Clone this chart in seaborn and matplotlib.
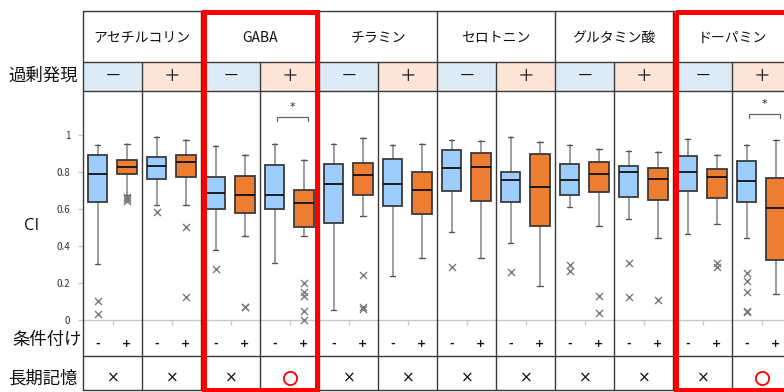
import matplotlib
matplotlib.use("Agg")
import matplotlib.pyplot as plt
from matplotlib.patches import Rectangle
import numpy as np
import pandas as pd
import seaborn as sns

# ---- data -------------------------------------------------------------
molecules = ["アセチルコリン", "GABA", "チラミン", "セロトニン", "グルタミン酸", "ドーパミン"]
overexpression = ["－", "＋"]          # per molecule: without / with overexpression
conditioning = ["-", "+"]              # per panel: left box / right box
long_term_memory = ["×", "×", "×", "○", "×", "×", "×", "×", "×", "×", "×", "○"]
highlighted_molecules = [1, 5]
significant_panels = [3, 11]
bracket_heights = [1.10, 1.115]
y_ticks = [0, 0.2, 0.4, 0.6, 0.8, 1.0]
y_tick_labels = ["0", "0.2", "0.4", "0.6", "0.8", "1"]

# box summaries, 24 boxes: panel order (molecule, overexpression), conditioning - then +
whisker_low = [0.302, 0.680, 0.625, 0.622, 0.381, 0.454, 0.311, 0.455,
               0.054, 0.562, 0.237, 0.334, 0.475, 0.338, 0.420, 0.182,
               0.611, 0.511, 0.547, 0.446, 0.468, 0.522, 0.443, 0.141]
quartile1 = [0.638, 0.790, 0.764, 0.777, 0.600, 0.582, 0.600, 0.502,
             0.524, 0.679, 0.618, 0.576, 0.700, 0.647, 0.638, 0.511,
             0.678, 0.692, 0.665, 0.649, 0.699, 0.663, 0.638, 0.326]
median = [0.793, 0.828, 0.833, 0.855, 0.687, 0.678, 0.678, 0.632,
          0.735, 0.786, 0.737, 0.703, 0.826, 0.828, 0.759, 0.719,
          0.759, 0.791, 0.802, 0.763, 0.804, 0.773, 0.755, 0.607]
quartile3 = [0.893, 0.867, 0.882, 0.893, 0.777, 0.779, 0.840, 0.703,
             0.847, 0.851, 0.874, 0.800, 0.920, 0.905, 0.800, 0.900,
             0.845, 0.855, 0.836, 0.826, 0.891, 0.820, 0.863, 0.770]
whisker_high = [0.946, 0.954, 0.990, 0.974, 0.941, 0.894, 0.952, 0.866,
                0.952, 0.985, 0.948, 0.956, 0.974, 0.972, 0.990, 0.965,
                0.950, 0.927, 0.918, 0.910, 0.981, 0.896, 0.948, 0.974]
outliers = [[0.105, 0.034], [0.665, 0.655, 0.645], [0.584], [0.504, 0.123],
            [0.275], [0.072, 0.068], [], [0.199, 0.153, 0.130, 0.049, 0.0],
            [], [0.242, 0.072, 0.058], [], [],
            [0.289], [], [0.258], [],
            [0.298, 0.266], [0.132, 0.036], [0.309, 0.125], [0.108],
            [], [0.311, 0.289], [0.255, 0.211, 0.152, 0.050, 0.045], []]

# ---- style ------------------------------------------------------------
sns.set_theme(style="white")
plt.rcParams["font.family"] = ["Noto Sans CJK JP", "DejaVu Sans"]

BLUE = "#9DCDFD"
ORANGE = "#ED7D31"
CELL_BLUE = "#DDEBF7"
CELL_PEACH = "#FCE4D6"
LINE = "#3a3a3a"
GRAY = "#8c8c8c"

W, H = 784, 392
X0, PW = 83.3, 59.0              # left edge and width of one panel (px)
TOP, HDR, OVX, PLOT_BOTTOM, BOTTOM = 11, 62, 91, 356, 390
n_panels = 2 * len(molecules)

fig = plt.figure(figsize=(W / 100, H / 100), dpi=100)
fig.patch.set_facecolor("white")

# ---- box plot area ----------------------------------------------------
ax = fig.add_axes([X0 / W, (H - PLOT_BOTTOM) / H, n_panels * PW / W, (PLOT_BOTTOM - OVX) / H])
ax.patch.set_alpha(0)
ax.set_xlim(0, n_panels)
ax.set_ylim(-0.195, 1.241)
for s in ax.spines.values():
    s.set_visible(False)

offsets = [0.245, 0.74]
positions = [p + offsets[c] for p in range(n_panels) for c in range(2)]
stats = [dict(whislo=whisker_low[i], q1=quartile1[i], med=median[i],
              q3=quartile3[i], whishi=whisker_high[i], fliers=[])
         for i in range(len(positions))]

ax.axhline(0, color="#c8c8c8", lw=1.0, zorder=1)
ax.vlines(np.arange(n_panels) + 0.5, -0.027, 0, color="#c8c8c8", lw=1.0)

bp = ax.bxp(stats, positions=positions, widths=0.33, patch_artist=True,
            showfliers=False, capwidths=0.09,
            boxprops=dict(edgecolor=LINE, linewidth=1.3),
            medianprops=dict(color="#111111", linewidth=1.3),
            whiskerprops=dict(color=GRAY, linewidth=1.2),
            capprops=dict(color="#555555", linewidth=1.0))
for i, patch in enumerate(bp["boxes"]):
    patch.set_facecolor(BLUE if i % 2 == 0 else ORANGE)
    patch.set_zorder(3)
for line in bp["medians"]:
    line.set_zorder(4)

flier_df = pd.DataFrame(
    [(positions[i], v) for i, vals in enumerate(outliers) for v in vals],
    columns=["pos", "CI"])
sns.scatterplot(data=flier_df, x="pos", y="CI", marker="x", color="#7a7a7a",
                s=26, linewidth=1.0, ax=ax, zorder=4, legend=False)

ax.set_xticks([])
ax.set_xlabel("")
ax.set_ylabel("")
ax.set_yticks(y_ticks)
ax.set_yticklabels(y_tick_labels, fontsize=7, color="#333333")
ax.tick_params(axis="y", left=True, length=3.5, width=1.0, color="#c8c8c8", pad=6)

# conditioning labels under each box
for i, x in enumerate(positions):
    ax.text(x, -0.13, conditioning[i % 2], ha="center", va="center",
            fontsize=8, fontweight="bold", family="DejaVu Sans", color="#111111")

# significance brackets
for p, yb in zip(significant_panels, bracket_heights):
    xa, xb = p + 0.28, p + 0.81
    ax.plot([xa, xa, xb, xb], [yb - 0.02, yb, yb, yb - 0.02], color="#666666", lw=0.9)
    ax.text(p + 0.55, yb + 0.055, "*", ha="center", va="center", fontsize=8,
            family="DejaVu Sans", color="#222222")

# ---- table overlay (pixel coordinates) --------------------------------
ov = fig.add_axes([0, 0, 1, 1], zorder=5)
ov.set_xlim(0, W)
ov.set_ylim(H, 0)
ov.axis("off")
ov.patch.set_alpha(0)

edges = [X0 + PW * k for k in range(n_panels + 1)]
for p in range(n_panels):
    ov.add_patch(Rectangle((edges[p], HDR), PW, OVX - HDR,
                           facecolor=CELL_BLUE if p % 2 == 0 else CELL_PEACH,
                           edgecolor="none", zorder=0))

for y in (TOP, HDR, OVX, PLOT_BOTTOM, BOTTOM):
    ov.plot([X0 - 0.5, W + 5], [y, y], color=LINE, lw=1.0, zorder=2)
for k, x in enumerate(edges):
    y_start = TOP if k % 2 == 0 else HDR
    ov.plot([x, x], [y_start, BOTTOM], color=LINE, lw=1.0, zorder=2)

for m, name in enumerate(molecules):
    ov.text(X0 + PW * (2 * m + 1), 37.5, name, ha="center", va="center",
            fontsize=10, color="#111111")
for p in range(n_panels):
    cx = X0 + PW * (p + 0.5)
    ov.text(cx, 76, overexpression[p % 2], ha="center", va="center",
            fontsize=12, color="#111111")
    if long_term_memory[p] == "○":
        ov.plot(cx, 377.5, marker="o", ms=9.5, mfc="none", mec="#FF0000", mew=1.3)
    else:
        ov.text(cx, 377.5, long_term_memory[p], ha="center", va="center",
                fontsize=11, family="DejaVu Sans", color="#111111")

ov.text(43, 76, "過剰発現", ha="center", va="center", fontsize=12.5, color="#111111")
ov.text(47, 340, "条件付け", ha="center", va="center", fontsize=12.5, color="#111111")
ov.text(43, 378, "長期記憶", ha="center", va="center", fontsize=12.5, color="#111111")
ov.text(32, 226, "CI", ha="center", va="center", fontsize=12, family="Open Sans",
        color="#111111")

for m in highlighted_molecules:
    xl = edges[2 * m] + 2.5
    xr = edges[2 * m + 2] - 2.5
    ov.add_patch(Rectangle((xl, 12), xr - xl, 389.5 - 12, fill=False,
                           edgecolor="#FF0000", lw=3.6, zorder=6))

fig.savefig("out.png", dpi=100)
